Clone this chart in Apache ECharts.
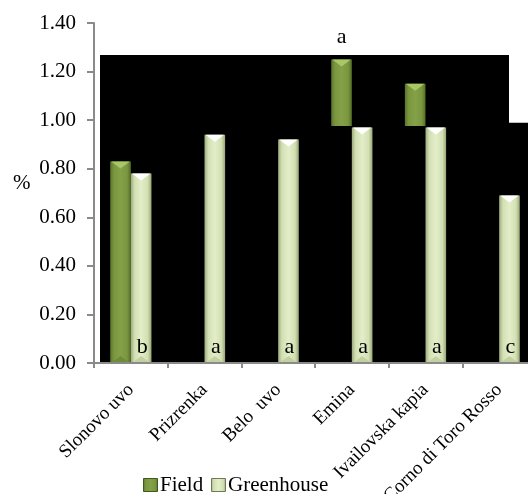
<!DOCTYPE html>
<html><head><meta charset="utf-8">
<script src="https://cdn.jsdelivr.net/npm/echarts@6/dist/echarts.min.js"></script>
<style>html,body{margin:0;padding:0;background:#fff}#c{width:528px;height:494px}</style>
</head><body><div id="c"></div>
<script>
const categories = ['Slonovo uvo','Prizrenka','Belo  uvo','Emina','Ivailovska kapia','Corno di Toro Rosso'];
const fieldValues = [0.83, null, null, 1.25, 1.15, null];
const greenhouseValues = [0.78, 0.94, 0.92, 0.97, 0.97, 0.69];
const fieldLabels = ['', '', '', 'a', '', ''];
const greenhouseLabels = ['b','a','a','a','a','c'];
const yTicks = [0, 0.2, 0.4, 0.6, 0.8, 1.0, 1.2, 1.4];
const yAxisTitle = '%';
const seriesNames = ['Field', 'Greenhouse'];

const FONT = 'Liberation Serif';
const fieldGrad = {type:'linear',x:0,y:0,x2:1,y2:0,colorStops:[
  {offset:0,color:'#5a752a'},{offset:0.18,color:'#7a963f'},{offset:0.5,color:'#84a148'},{offset:0.82,color:'#7a963f'},{offset:1,color:'#536d26'}]};
const ghGrad = {type:'linear',x:0,y:0,x2:1,y2:0,colorStops:[
  {offset:0,color:'#9dab7e'},{offset:0.18,color:'#d2dfb2'},{offset:0.5,color:'#e3eec9'},{offset:0.82,color:'#d2dfb2'},{offset:1,color:'#97a677'}]};

function makeRender(offset, grad, topCol, botCol, labelsTop, labelsBottom){
  return function(params, api){
    const idx = api.value(0), val = api.value(1);
    if (val == null || isNaN(val)) return;
    const band = api.size([1,0])[0];
    const w = band*0.28;
    const top = api.coord([idx, val]);
    const base = api.coord([idx, 0]);
    const x = top[0] + offset*w;
    const h = base[1]-top[1];
    const tri = 7;
    const children = [
      {type:'rect', shape:{x:x, y:top[1], width:w, height:h}, style:{fill:grad}},
      {type:'polygon', shape:{points:[[x+1,top[1]],[x+w-1,top[1]],[x+w/2,top[1]+tri]]}, style:{fill:topCol}},
      {type:'polygon', shape:{points:[[x+1,base[1]],[x+w-1,base[1]],[x+w/2,base[1]-tri]]}, style:{fill:botCol}}
    ];
    const lt = labelsTop && labelsTop[idx];
    if (lt) children.push({type:'text', style:{text:lt, x:x+w/2, y:top[1]-11, align:'center', verticalAlign:'bottom', fontSize:22, fontFamily:FONT, fill:'#000'}});
    const lb = labelsBottom && labelsBottom[idx];
    if (lb) children.push({type:'text', style:{text:lb, x:x+w/2+1, y:base[1]-5, align:'center', verticalAlign:'bottom', fontSize:22, fontFamily:FONT, fill:'#000'}});
    return {type:'group', children};
  };
}

function legendFor(name, left, grad, border){
  return {
    left:left, top:478, padding:0, itemWidth:14, itemHeight:13,
    formatter:function(){ return ''; },
    data:[{name:name, icon:'rect', itemStyle:{color:grad, borderColor:border, borderWidth:1}}]
  };
}

const chart = echarts.init(document.getElementById('c'), null, {renderer:'canvas'});
chart.setOption({
  animation:false,
  textStyle:{fontFamily:FONT},
  grid:{left:94, top:23, right:-8, bottom:131, containLabel:false, outerBoundsMode:'none'},
  graphic:{elements:[
    {type:'rect', z:0, shape:{x:100,y:55,width:409,height:68}, style:{fill:'#000'}},
    {type:'rect', z:0, shape:{x:100,y:122.7,width:430,height:240}, style:{fill:'#000'}},
    {type:'rect', z:4, shape:{x:160,y:126,width:370,height:236.7}, style:{fill:'#000'}},
    {type:'text', z:6, left:13, top:173, style:{text:yAxisTitle, fontSize:21, fontFamily:FONT, fill:'#000'}},
    {type:'text', z:6, style:{text:seriesNames[0], x:160, y:485, verticalAlign:'middle', fontSize:21, fontFamily:FONT, fill:'#000'}},
    {type:'text', z:6, style:{text:seriesNames[1], x:228, y:485, verticalAlign:'middle', fontSize:21, fontFamily:FONT, fill:'#000'}}
  ]},
  legend:[
    legendFor(seriesNames[0], 143, fieldGrad, '#3f5a1a'),
    legendFor(seriesNames[1], 211, ghGrad, '#6f7a5a')
  ],
  xAxis:{
    type:'category', data:categories, z:6,
    axisLine:{lineStyle:{color:'#8a8a8a', width:2}},
    axisTick:{show:true, length:5, lineStyle:{color:'#8a8a8a', width:2}},
    axisLabel:{rotate:45, interval:0, fontSize:19, fontFamily:FONT, color:'#000', margin:24}
  },
  yAxis:{
    type:'value', min:0, max:1.4, interval:0.2, z:6,
    axisLine:{show:true, lineStyle:{color:'#8a8a8a', width:2}},
    axisTick:{show:true, length:7, lineStyle:{color:'#8a8a8a', width:2}},
    splitLine:{show:false},
    axisLabel:{fontSize:21, fontFamily:FONT, color:'#000', margin:18,
      formatter:function(v){ return yTicks.indexOf(Math.round(v*10)/10) >= 0 ? v.toFixed(2) : ''; }}
  },
  series:[
    {name:seriesNames[0], type:'custom', z:3, clip:false, itemStyle:{color:fieldGrad},
      data:fieldValues.map((v,i)=>[i, v==null?NaN:v]),
      encode:{x:0,y:1},
      renderItem:makeRender(-1, fieldGrad, '#a8c866', '#6e8b38', fieldLabels, null)},
    {name:seriesNames[1], type:'custom', z:5, clip:false, itemStyle:{color:ghGrad},
      data:greenhouseValues.map((v,i)=>[i, v]),
      encode:{x:0,y:1},
      renderItem:makeRender(0, ghGrad, '#ffffff', '#c3d0a2', null, greenhouseLabels)}
  ]
});
</script></body></html>
